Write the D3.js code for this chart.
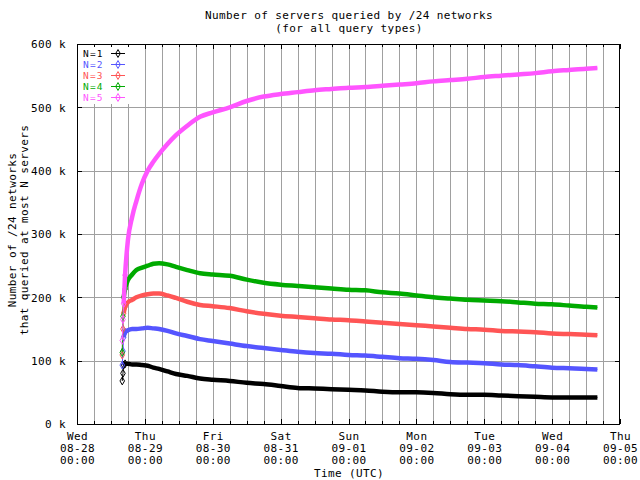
<!DOCTYPE html>
<html>
<head>
<meta charset="utf-8">
<script src="https://cdn.jsdelivr.net/npm/d3@7"></script>
<style>
  html, body { margin: 0; padding: 0; background: #fff; }
  svg text { font-family: "DejaVu Sans Mono", "Liberation Mono", monospace; font-size: 11px; letter-spacing: 0.4px; }
  svg text.legend { font-size: 9.5px; letter-spacing: 1.2px; }
</style>
</head>
<body>
<svg id="chart" width="640" height="480"></svg>
<script>
// ---- data (hours since Wed 08-28 00:00 UTC; values in thousands) ----
const hours = [16, 16.25, 16.5, 17, 18, 19.5, 21, 23, 25, 27, 29, 32, 35, 39, 43.5, 48, 54, 60, 66, 72, 78, 84, 90, 96, 102, 108, 114, 120, 126, 132, 138, 144, 150, 156, 162, 168, 174, 180, 184];
const n1 = [68, 80, 93, 95, 95, 94, 94, 93, 92, 89, 87, 83, 79, 76, 72, 70, 68, 65, 63, 60, 57, 56, 55, 54, 53, 51, 50, 50, 49, 47, 46, 46, 45, 44, 43, 42, 42, 42, 42];
const n2 = [93, 115, 137, 145, 148, 150, 150, 151, 152, 151, 150, 147, 143, 139, 134, 131, 127, 123, 120, 117, 114, 112, 111, 109, 108, 106, 104, 103, 101, 98, 97, 96, 94, 93, 91, 89, 88, 87, 86];
const n3 = [109, 150, 175, 185, 192, 196, 200, 203, 205, 206, 206, 203, 199, 193, 188, 186, 183, 178, 174, 171, 169, 167, 165, 164, 162, 160, 158, 156, 154, 152, 150, 149, 147, 146, 145, 143, 142, 141, 140];
const n4 = [113, 170, 200, 213, 227, 236, 243, 247, 250, 253, 254, 252, 248, 243, 238, 236, 234, 228, 223, 220, 218, 216, 214, 212, 211, 208, 206, 203, 200, 198, 196, 195, 194, 192, 190, 189, 187, 185, 184];
const n5 = [132, 165, 190, 235, 290, 327, 352, 380, 400, 414, 426, 442, 456, 471, 485, 492, 500, 510, 517, 521, 524, 527, 529, 531, 532, 534, 536, 538, 541, 543, 545, 548, 550, 552, 554, 557, 559, 561, 562];
const seriesNames = ["N=1", "N=2", "N=3", "N=4", "N=5"];
const seriesValues = [n1, n2, n3, n4, n5];
const seriesColors = ["#000000", "#5555ff", "#ff5555", "#00aa00", "#ff55ff"];
const dayNames = ["Wed", "Thu", "Fri", "Sat", "Sun", "Mon", "Tue", "Wed", "Thu"];
const dayDates = ["08-28", "08-29", "08-30", "08-31", "09-01", "09-02", "09-03", "09-04", "09-05"];
const dayTimes = ["00:00", "00:00", "00:00", "00:00", "00:00", "00:00", "00:00", "00:00", "00:00"];
const yTicks = [0, 100, 200, 300, 400, 500, 600];

// ---- layout ----
const L = 77, R = 620, T = 44, B = 424;
const svg = d3.select("#chart");
const x = d3.scaleLinear().domain([0, 192]).range([L, R]);
const y = d3.scaleLinear().domain([0, 600]).range([B, T]);

const dayTicks = dayNames.map((d, i) => i * 24);
const minorTicks = d3.range(0, 193, 6);

// grid
const grid = svg.append("g").attr("stroke", "#a0a0a0").attr("stroke-width", 1).attr("shape-rendering", "crispEdges");
grid.selectAll("line.v").data(minorTicks.filter(h => h > 0 && h < 192)).join("line")
  .attr("x1", d => Math.round(x(d)) + 0.5).attr("x2", d => Math.round(x(d)) + 0.5)
  .attr("y1", T).attr("y2", B);
grid.selectAll("line.h").data(yTicks.filter(v => v > 0 && v < 600)).join("line")
  .attr("x1", L).attr("x2", R)
  .attr("y1", d => Math.round(y(d)) + 0.5).attr("y2", d => Math.round(y(d)) + 0.5);

// legend background (hides grid)
svg.append("rect").attr("x", L + 1).attr("y", T + 1).attr("width", 63).attr("height", 59).attr("fill", "#fff");

// series
const line = d3.line().x((d, i) => x(hours[i])).y(d => y(d)).curve(d3.curveMonotoneX);
seriesValues.forEach((vals, k) => {
  svg.append("path").datum(vals)
    .attr("fill", "none").attr("stroke", seriesColors[k]).attr("stroke-width", 1)
    .attr("d", line);
  svg.append("path").datum(vals.slice(2))
    .attr("fill", "none").attr("stroke", seriesColors[k]).attr("stroke-width", 4.5)
    .attr("d", d3.line().x((d, i) => x(hours[i + 2])).y(d => y(d)).curve(d3.curveMonotoneX));
  svg.append("g").selectAll("path").data(vals.slice(0, 4)).join("path")
    .attr("transform", (d, i) => `translate(${x(hours[i])},${y(d)})`)
    .attr("d", d3.symbol(d3.symbolDiamond, 18))
    .attr("fill", "none").attr("stroke", seriesColors[k]).attr("stroke-width", 1);
});

// axes
const fmtK = d => d + " k";
const yl = svg.append("g").attr("transform", `translate(${L},0)`)
  .call(d3.axisLeft(y).tickValues(yTicks).tickFormat(fmtK).tickSizeInner(-5).tickSizeOuter(0).tickPadding(11));
const yr = svg.append("g").attr("transform", `translate(${R},0)`)
  .call(d3.axisRight(y).tickValues(yTicks).tickFormat("").tickSizeInner(-5).tickSizeOuter(0));
const xbMinor = svg.append("g").attr("transform", `translate(0,${B})`)
  .call(d3.axisBottom(x).tickValues(minorTicks).tickFormat("").tickSizeInner(-3).tickSizeOuter(0));
const xtMinor = svg.append("g").attr("transform", `translate(0,${T})`)
  .call(d3.axisTop(x).tickValues(minorTicks).tickFormat("").tickSizeInner(-3).tickSizeOuter(0));
const xb = svg.append("g").attr("transform", `translate(0,${B})`)
  .call(d3.axisBottom(x).tickValues(dayTicks).tickFormat((d, i) => dayNames[i]).tickSizeInner(-5).tickSizeOuter(0).tickPadding(8));
const xt = svg.append("g").attr("transform", `translate(0,${T})`)
  .call(d3.axisTop(x).tickValues(dayTicks).tickFormat("").tickSizeInner(-5).tickSizeOuter(0));
[yl, yr, xbMinor, xtMinor, xb, xt].forEach(g => {
  g.select(".domain").remove();
  g.selectAll("line").attr("stroke", "#000").attr("shape-rendering", "crispEdges");
  g.selectAll("text").attr("font-family", null).attr("font-size", null).attr("fill", "#000");
});
yl.selectAll("text").attr("dy", "0.35em");
xb.selectAll(".tick text").each(function (d, i) {
  const t = d3.select(this);
  t.text(null).attr("y", 0).attr("dy", null);
  t.append("tspan").attr("x", 0).attr("y", 16).text(dayNames[i]);
  t.append("tspan").attr("x", 0).attr("y", 28).text(dayDates[i]);
  t.append("tspan").attr("x", 0).attr("y", 40).text(dayTimes[i]);
});

// frame
svg.append("rect").attr("x", L + 0.5).attr("y", T + 0.5).attr("width", R - L - 1).attr("height", B - T)
  .attr("fill", "none").attr("stroke", "#000").attr("stroke-width", 1).attr("shape-rendering", "crispEdges");

// legend
const lg = svg.append("g");
seriesNames.forEach((name, k) => {
  const cy = 53 + k * 11;
  lg.append("text").attr("class", "legend").attr("x", 83).attr("y", cy + 3.5).attr("fill", seriesColors[k]).text(name);
  lg.append("line").attr("x1", 111).attr("x2", 125).attr("y1", cy + 0.5).attr("y2", cy + 0.5)
    .attr("stroke", seriesColors[k]).attr("stroke-width", 1);
  lg.append("path").attr("transform", `translate(118,${cy + 0.5})`)
    .attr("d", d3.symbol(d3.symbolDiamond, 18)).attr("fill", "none").attr("stroke", seriesColors[k]);
});

// titles
svg.append("text").attr("x", 349).attr("y", 18.5).attr("text-anchor", "middle").text("Number of servers queried by /24 networks");
svg.append("text").attr("x", 349).attr("y", 31.5).attr("text-anchor", "middle").text("(for all query types)");
svg.append("text").attr("x", 349).attr("y", 477).attr("text-anchor", "middle").text("Time (UTC)");
svg.append("text").attr("transform", "translate(16,230) rotate(-90)").attr("text-anchor", "middle").text("Number of /24 networks");
svg.append("text").attr("transform", "translate(28,230) rotate(-90)").attr("text-anchor", "middle").text("that queried at most N servers");
</script>
</body>
</html>
